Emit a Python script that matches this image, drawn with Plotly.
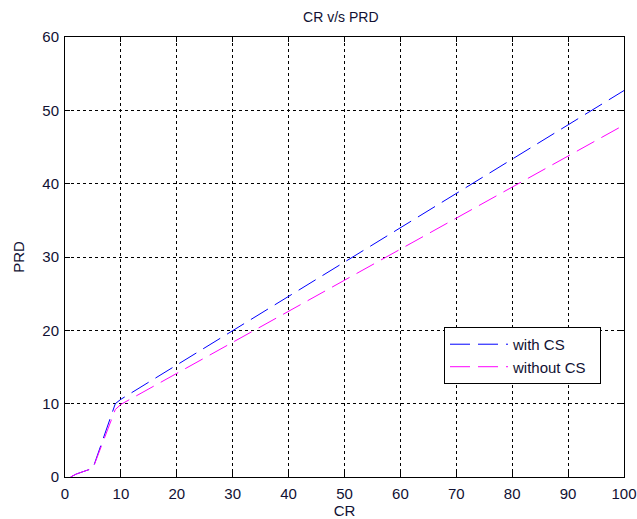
import plotly.graph_objects as go

cr_with = [1, 2, 5, 9, 10, 100]
prd_with = [0, 0.4, 1.2, 10.0, 10.6, 52.7]
cr_without = [1, 2, 5, 9, 10, 100]
prd_without = [0, 0.4, 1.2, 9.2, 9.9, 48.0]

x_ticks = [0, 10, 20, 30, 40, 50, 60, 70, 80, 90, 100]
y_ticks = [0, 10, 20, 30, 40, 50, 60]

fig = go.Figure()
fig.add_trace(go.Scatter(x=cr_with, y=prd_with, mode="lines", name="with CS",
                         line=dict(color="#0000ff", width=1, dash="20px,8px")))
fig.add_trace(go.Scatter(x=cr_without, y=prd_without, mode="lines", name="without CS\u00a0\u00a0",
                         line=dict(color="#ff00ff", width=1, dash="20px,8px")))

axis_common = dict(showline=True, linecolor="black", linewidth=1, mirror="allticks",
                   ticks="inside", ticklen=5, tickcolor="black", automargin=False,
                   showgrid=True, gridcolor="black", gridwidth=1, griddash="3px,3px",
                   zeroline=False, tickfont=dict(family="Arial", size=15, color="#111133"),
                   title_font=dict(family="Arial", size=15, color="#111133"))

fig.update_layout(
    width=637, height=519,
    margin=dict(l=65, r=13, t=37, b=42),
    paper_bgcolor="white", plot_bgcolor="white",
    title=dict(text="CR v/s PRD", x=0.535, xanchor="center", y=0.967, yanchor="middle",
               font=dict(family="Arial", size=14, color="#111133")),
    xaxis=dict(range=[0, 100], tickvals=x_ticks, ticklabelstandoff=3,
               title=dict(text="CR", standoff=2), **axis_common),
    yaxis=dict(range=[0, 60], tickvals=y_ticks, ticklabelstandoff=2,
               title=dict(text="PRD", standoff=14), **axis_common),
    legend=dict(x=0.678, y=0.341, xanchor="left", yanchor="top",
                bgcolor="white", bordercolor="black", borderwidth=1,
                font=dict(family="Arial", size=15, color="#111133"),
                itemwidth=58, tracegroupgap=0),
    showlegend=True,
)

fig.write_html("out.html")
